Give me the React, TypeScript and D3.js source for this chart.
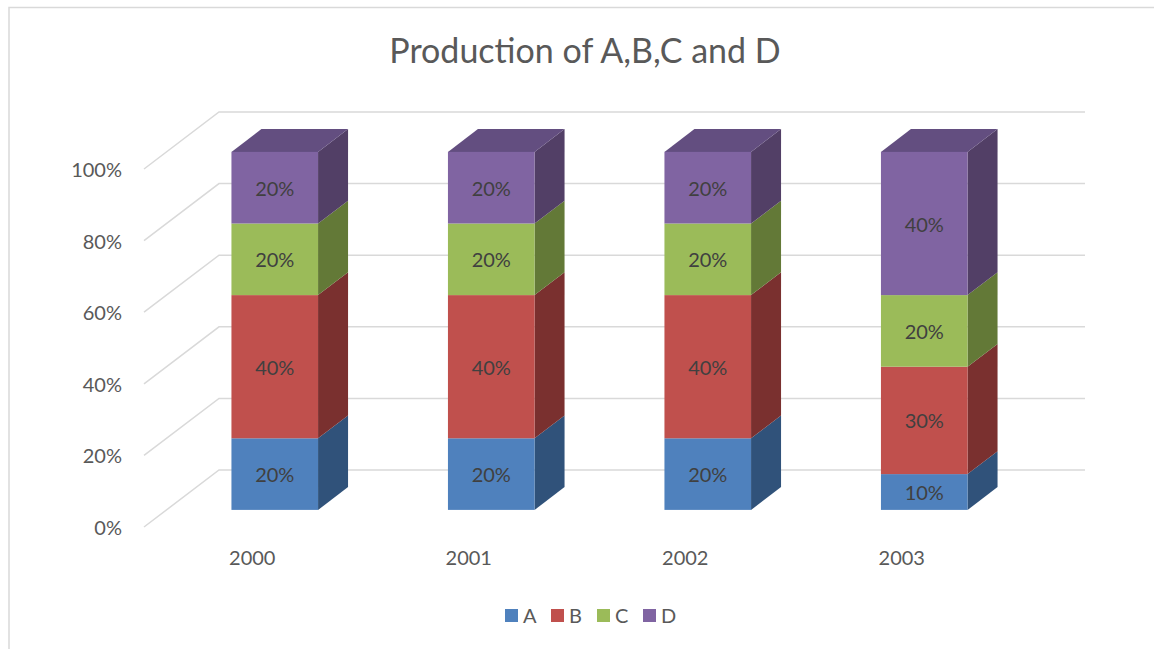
import React from "react";
import * as d3 from "d3";

const years = ["2000", "2001", "2002", "2003"];
const seriesNames = ["A", "B", "C", "D"];
const valuesA = [0.2, 0.2, 0.2, 0.1];
const valuesB = [0.4, 0.4, 0.4, 0.3];
const valuesC = [0.2, 0.2, 0.2, 0.2];
const valuesD = [0.2, 0.2, 0.2, 0.4];
const yTicks = [0, 0.2, 0.4, 0.6, 0.8, 1];

const frontColors = ["#4F81BD", "#C0504D", "#9BBB59", "#8064A2"];
const sideColors = ["#30527A", "#7A302F", "#637937", "#523F66"];
const topColors = ["#3D6596", "#9A3E3C", "#7C9645", "#634E80"];

const W = 1154;
const H = 649;
const DX = 75; // floor depth offset x
const DY = -57; // floor depth offset y
const DF = 0.3; // bar front depth fraction
const DB = 0.7; // bar back depth fraction
const FONT = "Lato, 'Open Sans', sans-serif";

export default function App() {
  const rows = years.map((y, i) => ({
    year: y,
    A: valuesA[i],
    B: valuesB[i],
    C: valuesC[i],
    D: valuesD[i],
  }));
  const stacked = d3.stack<any>().keys(seriesNames)(rows);

  const x = d3.scaleBand<string>().domain(years).range([144, 1010]).paddingInner(0.6).paddingOuter(0.3);
  const y = d3.scaleLinear().domain([0, 1]).range([527, 169]);
  const fmt = d3.format(".0%");

  const fdx = DF * DX, fdy = DF * DY;
  const sdx = (DB - DF) * DX, sdy = (DB - DF) * DY;

  const pts = (p: number[][]) => p.map((q) => q.join(",")).join(" ");

  return (
    <svg width={W} height={H} style={{ position: "absolute", left: 0, top: 0, background: "#fff" }}>
      <rect x={9} y={7.5} width={1200} height={700} fill="#fff" stroke="#D9D9D9" strokeWidth={1.5} />
      <text x={585} y={63} textAnchor="middle" fontFamily={FONT} fontSize={34} fill="#595959">
        Production of A,B,C and D
      </text>
      {/* gridlines */}
      {yTicks.map((t) => {
        const yf = y(t);
        const x0 = x.range()[0];
        const x1 = x.range()[1];
        return (
          <g key={t}>
            <polyline
              points={pts([[x0, yf], [x0 + DX, yf + DY], [x1 + DX, yf + DY]])}
              fill="none"
              stroke="#D9D9D9"
              strokeWidth={1.5}
            />
            <text x={122} y={yf + 1} dy="0.35em" textAnchor="end" fontFamily={FONT} fontSize={20} fill="#595959">
              {fmt(t)}
            </text>
          </g>
        );
      })}
      {/* bars */}
      {years.map((yr, i) => {
        const bx0 = (x(yr) as number) + fdx;
        const bx1 = bx0 + x.bandwidth();
        return (
          <g key={yr}>
            {stacked.map((s, k) => {
              const v0 = s[i][0];
              const v1 = s[i][1];
              const yb = y(v0) + fdy;
              const yt = y(v1) + fdy;
              const isTop = k === stacked.length - 1;
              return (
                <g key={k}>
                  <polygon
                    points={pts([[bx1, yb], [bx1 + sdx, yb + sdy], [bx1 + sdx, yt + sdy], [bx1, yt]])}
                    fill={sideColors[k]}
                  />
                  {isTop && (
                    <polygon
                      points={pts([[bx0, yt], [bx0 + sdx, yt + sdy], [bx1 + sdx, yt + sdy], [bx1, yt]])}
                      fill={topColors[k]}
                    />
                  )}
                  <rect x={bx0} y={yt} width={bx1 - bx0} height={yb - yt} fill={frontColors[k]} />
                  <text
                    x={(bx0 + bx1) / 2}
                    y={(yb + yt) / 2 + 1}
                    dy="0.35em"
                    textAnchor="middle"
                    fontFamily={FONT}
                    fontSize={20}
                    fill="#404040"
                  >
                    {fmt(v1 - v0)}
                  </text>
                </g>
              );
            })}
          </g>
        );
      })}
      {/* category labels */}
      {years.map((yr) => (
        <text
          key={yr}
          x={(x(yr) as number) + x.bandwidth() / 2}
          y={558}
          dy="0.35em"
          textAnchor="middle"
          fontFamily={FONT}
          fontSize={20}
          fill="#595959"
        >
          {yr}
        </text>
      ))}
      {/* legend */}
      {seriesNames.map((n, k) => {
        const lx = 505 + k * 46;
        return (
          <g key={n}>
            <rect x={lx} y={609} width={13} height={13} fill={frontColors[k]} />
            <text x={lx + 18} y={616} dy="0.35em" fontFamily={FONT} fontSize={20} fill="#595959">
              {n}
            </text>
          </g>
        );
      })}
    </svg>
  );
}
